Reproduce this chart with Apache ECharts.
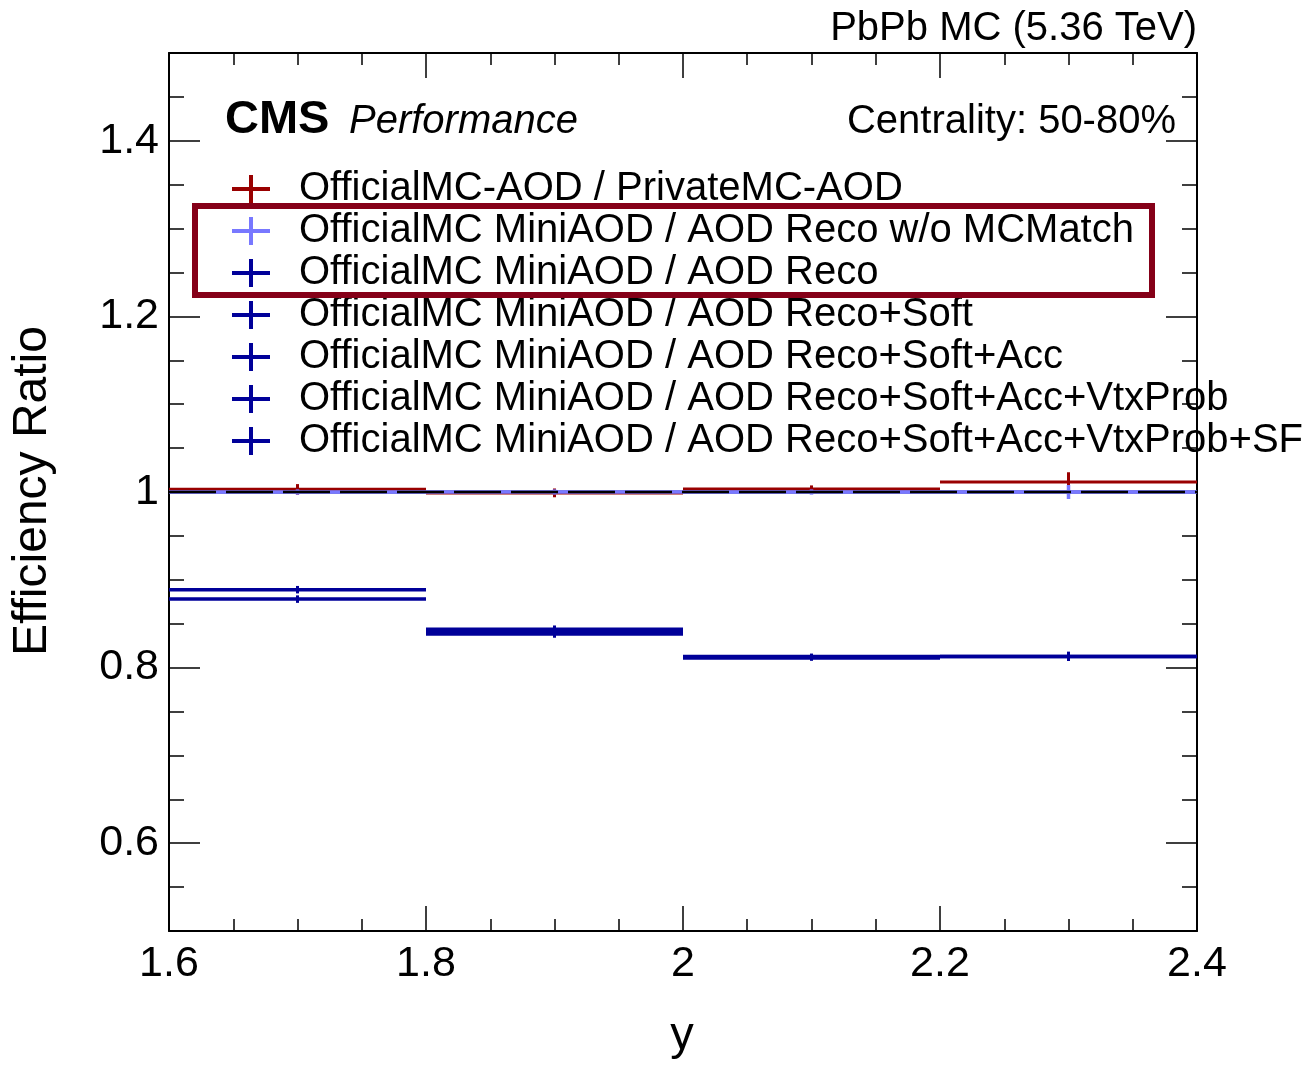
<!DOCTYPE html>
<html>
<head>
<meta charset="utf-8">
<script src="https://cdn.jsdelivr.net/npm/echarts@6/dist/echarts.min.js"></script>
<style>
html,body{margin:0;padding:0;background:#fff;}
#chart{width:1306px;height:1067px;}
</style>
</head>
<body>
<div id="chart"></div>
<script>
// ---- data ----
const binLow  = [1.6, 1.8, 2.0, 2.2];
const binHigh = [1.8, 2.0, 2.2, 2.4];

const seriesNames = [
  'OfficialMC-AOD / PrivateMC-AOD',
  'OfficialMC MiniAOD / AOD Reco w/o MCMatch',
  'OfficialMC MiniAOD / AOD Reco',
  'OfficialMC MiniAOD / AOD Reco+Soft',
  'OfficialMC MiniAOD / AOD Reco+Soft+Acc',
  'OfficialMC MiniAOD / AOD Reco+Soft+Acc+VtxProb',
  'OfficialMC MiniAOD / AOD Reco+Soft+Acc+VtxProb+SF'
];
const privateAodRatio   = [1.003, 0.999, 1.0035, 1.0115];
const privateAodErr     = [0.006, 0.005, 0.004, 0.011];
const recoNoMatchRatio  = [1.000, 1.000, 1.000, 1.000];
const recoNoMatchErr    = [0.003, 0.003, 0.003, 0.008];
const recoRatio         = [1.000, 1.000, 1.000, 1.000];
const recoErr           = [0.002, 0.002, 0.002, 0.004];
const softRatio         = [0.889, 0.844, 0.813, 0.813];
const softErr           = [0.004, 0.004, 0.003, 0.005];
const softAccRatio      = [0.8885, 0.842, 0.812, 0.813];
const softAccErr        = [0.004, 0.004, 0.003, 0.005];
const vtxRatio          = [0.878, 0.840, 0.811, 0.8125];
const vtxErr            = [0.004, 0.004, 0.003, 0.005];
const sfRatio           = [0.878, 0.838, 0.811, 0.8125];
const sfErr             = [0.004, 0.004, 0.003, 0.005];

const xTickLabels = [1.6, 1.8, 2.0, 2.2, 2.4];
const yTickLabels = [0.6, 0.8, 1.0, 1.2, 1.4];
const yMinorTicks = [0.55, 0.65, 0.7, 0.75, 0.85, 0.9, 0.95, 1.05, 1.1, 1.15, 1.25, 1.3, 1.35, 1.45];

const seriesValues = [privateAodRatio, recoNoMatchRatio, recoRatio, softRatio, softAccRatio, vtxRatio, sfRatio];
const seriesErrors = [privateAodErr, recoNoMatchErr, recoErr, softErr, softAccErr, vtxErr, sfErr];
const seriesColors = ['#990000', '#7878ff', '#000099', '#000099', '#000099', '#000099', '#000099'];
const seriesWidths = [3, 3.5, 3, 3, 3, 3, 3];
const seriesZ      = [3, 4, 2, 5, 6, 7, 8];

// ---- chart ----
const FONT = '"Liberation Sans", Arial, Helvetica, sans-serif';
const chart = echarts.init(document.getElementById('chart'), null, {renderer: 'canvas'});

const crossIcon = 'path://M0,12 L17,12 L17,0 L21,0 L21,12 L38,12 L38,16 L21,16 L21,28 L17,28 L17,16 L0,16 Z';

function makeHistSeries(i) {
  const data = binLow.map((lo, k) => [lo, binHigh[k], seriesValues[i][k], seriesErrors[i][k]]);
  const color = seriesColors[i];
  const w = seriesWidths[i];
  return {
    name: seriesNames[i],
    type: 'custom',
    xAxisIndex: 0,
    yAxisIndex: 0,
    clip: true,
    z: seriesZ[i],
    itemStyle: {color: color},
    encode: {x: [0, 1], y: 2},
    data: data,
    renderItem: function (params, api) {
      const lo = api.value(0), hi = api.value(1), v = api.value(2), e = api.value(3);
      const c = (lo + hi) / 2;
      const p1 = api.coord([lo, v]), p2 = api.coord([hi, v]);
      const e1 = api.coord([c, v - e]), e2 = api.coord([c, v + e]);
      const style = {stroke: color, lineWidth: w, fill: null};
      return {
        type: 'group',
        children: [
          {type: 'line', shape: {x1: p1[0], y1: p1[1], x2: p2[0], y2: p2[1]}, style: style},
          {type: 'line', shape: {x1: e1[0], y1: e1[1], x2: e2[0], y2: e2[1]}, style: style}
        ]
      };
    }
  };
}

const series = seriesNames.map((n, i) => makeHistSeries(i));
series.push({
  name: 'unity',
  type: 'line',
  xAxisIndex: 0,
  yAxisIndex: 0,
  data: [[xTickLabels[0], 1], [xTickLabels[xTickLabels.length - 1], 1]],
  symbol: 'none',
  silent: true,
  z: 20,
  lineStyle: {color: '#000', width: 2.5, type: [47, 10]}
});

const baseY = {
  type: 'value', min: 0.5, max: 1.5,
  splitLine: {show: false},
  minorTick: {show: false}
};

const option = {
  animation: false,
  backgroundColor: '#fff',
  grid: {left: 169, right: 109, top: 53, bottom: 136, containLabel: false},
  legend: {
    orient: 'vertical',
    left: 232, top: 168,
    padding: 0,
    itemGap: 0,
    itemWidth: 38, itemHeight: 28,
    selectedMode: false,
    textStyle: {fontFamily: FONT, fontSize: 40, color: '#000', lineHeight: 42, padding: [0, 0, 0, 24]},
    data: seriesNames.map(n => ({name: n, icon: crossIcon}))
  },
  xAxis: [
    {
      type: 'value', position: 'bottom', min: 1.6, max: 2.4, interval: 0.2,
      axisLine: {show: true, lineStyle: {color: '#000', width: 2}},
      axisTick: {show: true, inside: true, length: 25, lineStyle: {color: '#000', width: 1.5}},
      minorTick: {show: true, splitNumber: 4, length: 12, lineStyle: {color: '#000', width: 1.5}},
      axisLabel: {show: true, margin: 12, fontFamily: FONT, fontSize: 43, color: '#000',
        customValues: xTickLabels,
        formatter: v => String(Math.round(v * 10) / 10)},
      splitLine: {show: false}
    },
    {
      type: 'value', position: 'top', min: 1.6, max: 2.4, interval: 0.2,
      axisLine: {show: true, lineStyle: {color: '#000', width: 2}},
      axisTick: {show: true, inside: true, length: 25, lineStyle: {color: '#000', width: 1.5}},
      minorTick: {show: true, splitNumber: 4, length: 12, lineStyle: {color: '#000', width: 1.5}},
      axisLabel: {show: false},
      splitLine: {show: false}
    }
  ],
  yAxis: [
    Object.assign({}, baseY, {
      position: 'left',
      axisLine: {show: true, lineStyle: {color: '#000', width: 2}},
      axisTick: {show: true, inside: true, length: 31, customValues: yTickLabels, lineStyle: {color: '#000', width: 1.5}},
      axisLabel: {show: true, margin: 10, fontFamily: FONT, fontSize: 43, color: '#000',
        customValues: yTickLabels,
        formatter: v => String(Math.round(v * 10) / 10)}
    }),
    Object.assign({}, baseY, {
      position: 'left',
      axisLine: {show: false},
      axisTick: {show: true, inside: true, length: 15, customValues: yMinorTicks, lineStyle: {color: '#000', width: 1.5}},
      axisLabel: {show: false}
    }),
    Object.assign({}, baseY, {
      position: 'right',
      axisLine: {show: true, lineStyle: {color: '#000', width: 2}},
      axisTick: {show: true, inside: true, length: 31, customValues: yTickLabels, lineStyle: {color: '#000', width: 1.5}},
      axisLabel: {show: false}
    }),
    Object.assign({}, baseY, {
      position: 'right',
      axisLine: {show: false},
      axisTick: {show: true, inside: true, length: 15, customValues: yMinorTicks, lineStyle: {color: '#000', width: 1.5}},
      axisLabel: {show: false}
    })
  ],
  graphic: [
    {type: 'text', x: 1197, y: 29, z: 50,
      style: {text: 'PbPb MC (5.36 TeV)', font: '40px ' + FONT, fill: '#000', textAlign: 'right', textVerticalAlign: 'middle'}},
    {type: 'text', x: 225, y: 120, z: 50,
      style: {text: 'CMS', font: 'bold 47px ' + FONT, fill: '#000', textAlign: 'left', textVerticalAlign: 'middle'}},
    {type: 'text', x: 349, y: 122, z: 50,
      style: {text: 'Performance', font: 'italic 40px ' + FONT, fill: '#000', textAlign: 'left', textVerticalAlign: 'middle'}},
    {type: 'text', x: 1176, y: 122, z: 50,
      style: {text: 'Centrality: 50-80%', font: '40px ' + FONT, fill: '#000', textAlign: 'right', textVerticalAlign: 'middle'}},
    {type: 'text', x: 33, y: 491, rotation: Math.PI / 2, z: 50,
      style: {text: 'Efficiency Ratio', font: '48px ' + FONT, fill: '#000', textAlign: 'center', textVerticalAlign: 'middle'}},
    {type: 'text', x: 682, y: 1036, z: 50,
      style: {text: 'y', font: '47px ' + FONT, fill: '#000', textAlign: 'center', textVerticalAlign: 'middle'}},
    {type: 'rect', z: 60,
      shape: {x: 195, y: 206, width: 957, height: 89},
      style: {fill: null, stroke: '#850018', lineWidth: 6}}
  ],
  series: series
};

chart.setOption(option);
</script>
</body>
</html>
